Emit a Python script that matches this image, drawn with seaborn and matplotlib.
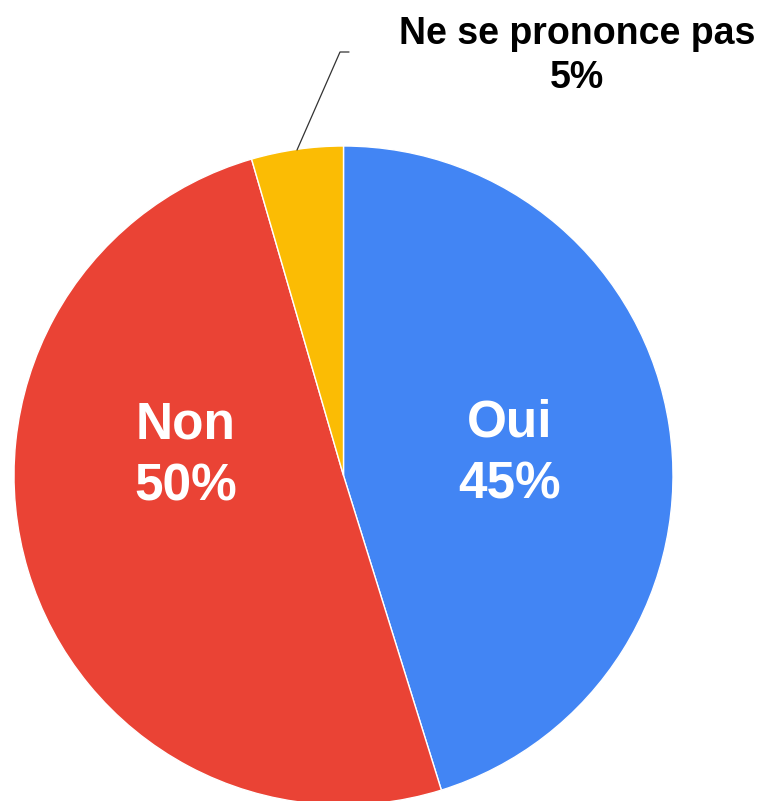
import matplotlib
matplotlib.use("Agg")
import matplotlib.pyplot as plt
import seaborn as sns

# data
categories = ["Oui", "Non", "Ne se prononce pas"]
shares = [45.2, 50.3, 4.5]
pct_labels = ["45%", "50%", "5%"]
colors = ["#4285F4", "#EA4335", "#FBBC04"]

sns.set_theme(style="white")
plt.rcParams['font.family'] = ['Liberation Sans', 'DejaVu Sans']

W, H = 770, 801
cx, cy, R = 343.5, 475.5, 329.5


def to_data(px, py):
    # pixel (from top-left) -> data units where pie radius is 1
    return (px - cx) / R, (cy - py) / R


fig = plt.figure(figsize=(W / 100, H / 100), dpi=100)
ax = fig.add_axes([0, 0, 1, 1])

ax.pie(shares, colors=colors, startangle=90, counterclock=False,
       radius=1, wedgeprops=dict(edgecolor="white", linewidth=1))

x0, y0 = to_data(0, H)
x1, y1 = to_data(W, 0)
ax.set_xlim(x0, x1)
ax.set_ylim(y0, y1)
ax.set_aspect("auto")
ax.axis("off")

# labels inside the two big slices
for name, pct, (px, py) in zip(categories[:2], pct_labels[:2],
                                [(510, 454), (186, 456)]):
    tx, ty = to_data(px, py)
    ax.text(tx, ty, f"{name}\n{pct}", color="white", fontsize=37,
            fontweight="bold", ha="center", va="center",
            multialignment="center", linespacing=1.35)

# outside label with leader line for the small slice
lx, ly = zip(*[to_data(297, 150), to_data(340, 52), to_data(349, 52)])
ax.plot(lx, ly, color="#333333", lw=0.9)
tx, ty = to_data(577, 56)
ax.text(tx, ty, f"{categories[2]}\n{pct_labels[2]}", color="black",
        fontsize=27, fontweight="bold", ha="center", va="center",
        multialignment="center", linespacing=1.27)

plt.savefig("out.png", dpi=100)
